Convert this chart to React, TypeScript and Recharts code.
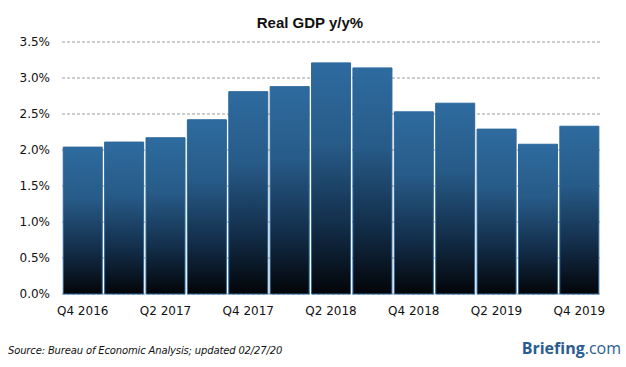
import { BarChart, Bar, XAxis, YAxis, CartesianGrid } from "recharts";

const quarters = [
  "Q4 2016",
  "Q1 2017",
  "Q2 2017",
  "Q3 2017",
  "Q4 2017",
  "Q1 2018",
  "Q2 2018",
  "Q3 2018",
  "Q4 2018",
  "Q1 2019",
  "Q2 2019",
  "Q3 2019",
  "Q4 2019",
];
const gdpYoY = [2.04, 2.11, 2.17, 2.42, 2.81, 2.88, 3.21, 3.14, 2.53, 2.65, 2.29, 2.08, 2.33];
const yTicks = [0, 0.5, 1, 1.5, 2, 2.5, 3, 3.5];

const data = quarters.map((q, i) => ({ quarter: q, value: gdpYoY[i] }));

const font = "'DejaVu Sans', Verdana, sans-serif";

export default function App() {
  return (
    <div
      style={{
        position: "absolute",
        left: 0,
        top: 0,
        width: 626,
        height: 367,
        background: "#fff",
        fontFamily: font,
      }}
    >
      <div
        style={{
          position: "absolute",
          top: 14,
          left: 0,
          width: 620,
          textAlign: "center",
          fontWeight: "bold",
          fontSize: 15,
          fontFamily: "'Liberation Sans', Arial, sans-serif",
          color: "#111",
        }}
      >
        Real GDP y/y%
      </div>
      <BarChart
        width={626}
        height={367}
        data={data}
        margin={{ top: 42, right: 26, bottom: 0, left: 0 }}
        barCategoryGap="3%"
      >
        <defs>
          <linearGradient id="barFill" x1="0" y1="0" x2="0" y2="1">
            <stop offset="0%" stopColor="#2e6b9f" />
            <stop offset="35%" stopColor="#275b88" />
            <stop offset="70%" stopColor="#132e4a" />
            <stop offset="100%" stopColor="#030508" />
          </linearGradient>
        </defs>
        <CartesianGrid
          horizontal
          vertical={false}
          stroke="#9a9a9a"
          strokeDasharray="3 2"
        />
        <XAxis
          dataKey="quarter"
          interval={1}
          axisLine={false}
          tickLine={false}
          tickMargin={6}
          height={73}
          tick={{ fill: "#111", fontSize: 12, fontFamily: font }}
        />
        <YAxis
          domain={[0, 3.5]}
          ticks={yTicks}
          width={62}
          axisLine={false}
          tickLine={false}
          tickMargin={6}
          tickFormatter={(v: number) => `${v.toFixed(1)}%`}
          tick={{ fill: "#111", fontSize: 12, fontFamily: font }}
        />
        <Bar
          dataKey="value"
          fill="url(#barFill)"
          stroke="#2b679b"
          strokeWidth={1}
          isAnimationActive={false}
        />
      </BarChart>
      <div
        style={{
          position: "absolute",
          left: 8,
          top: 345,
          fontSize: 10,
          fontStyle: "italic",
          letterSpacing: -0.15,
          color: "#111",
        }}
      >
        Source: Bureau of Economic Analysis; updated 02/27/20
      </div>
      <div
        style={{
          position: "absolute",
          right: 5,
          top: 337,
          fontSize: 16,
          color: "#2a5d8f",
          fontFamily: "'Open Sans', sans-serif",
        }}
      >
        <span style={{ fontWeight: "bold" }}>Briefing</span>
        <span>.com</span>
      </div>
    </div>
  );
}
